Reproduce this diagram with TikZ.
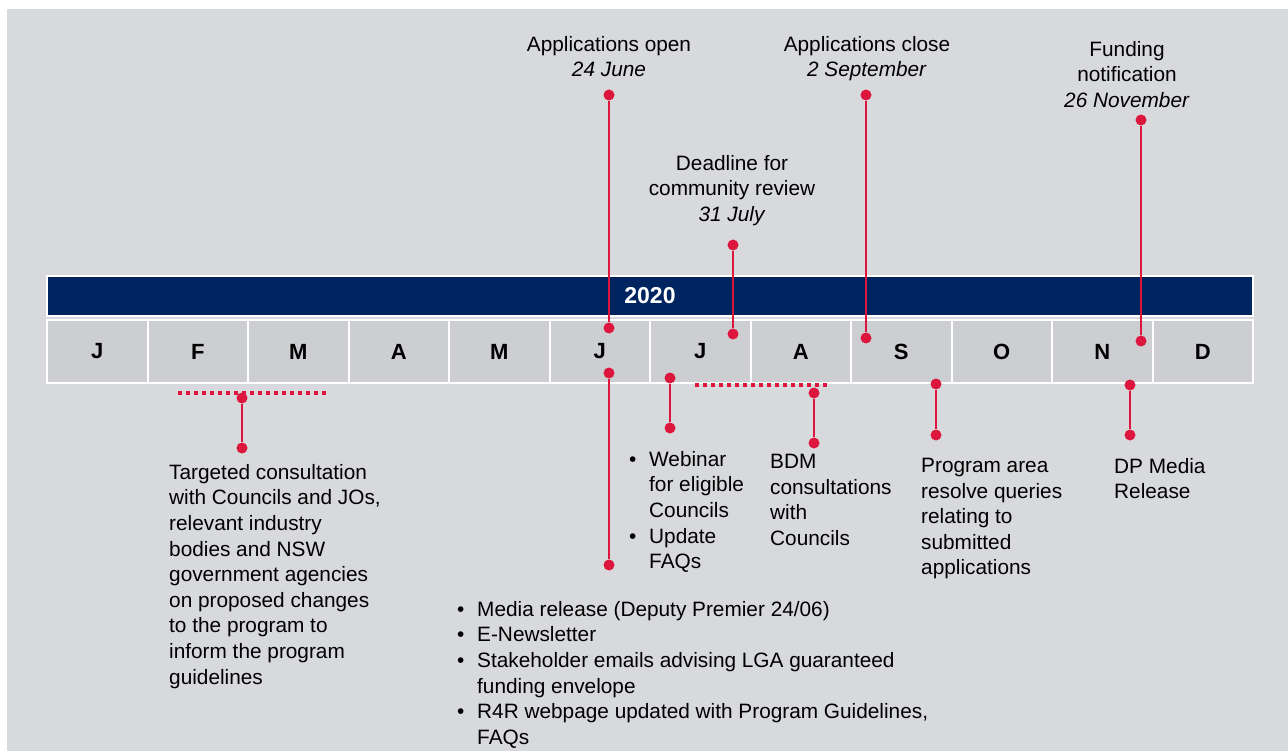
\documentclass[tikz,border=0pt]{standalone}
\usepackage{fontspec}
\setmainfont{Liberation Sans}
\definecolor{bggrey}{RGB}{216,217,220}
\definecolor{cellgrey}{RGB}{205,206,210}
\definecolor{navy}{RGB}{0,36,96}
\definecolor{pinred}{RGB}{220,22,60}
\newcommand{\bul}{\makebox[20pt][l]{\textbullet}}
\newcommand{\ind}{\hspace*{20pt}}

\begin{document}
\begin{tikzpicture}[
    x = 1pt, y = -1pt, % y grows downward
    dot/.style = {circle, fill=pinred, inner sep=0pt, minimum size=11pt},
    pin/.style = {pinred, line width=2.5pt},
    span/.style = {pinred, line width=3.5pt, dash pattern=on 3.5pt off 4.5pt},
    month/.style = {draw=white, line width=2pt, fill=cellgrey, outer sep=0pt,
        minimum width=100.5pt, minimum height=63pt, inner sep=0pt,
        font=\fontsize{22}{24}\selectfont\bfseries},
    note/.style = {align=left, anchor=north west, inner sep=0pt,
        font=\fontsize{20.8}{25.6}\selectfont},
    head/.style = {align=center, anchor=north, inner sep=0pt,
        font=\fontsize{20.8}{25.6}\selectfont}
    ]

    % page and background
    \fill[white] (0,0) rectangle (1288,751);
    \fill[bggrey] (7,9) rectangle (1288,751);
    \useasboundingbox (0,0) rectangle (1288,751);

    % year bar and months
    \node[draw=white, line width=2pt, fill=navy, minimum width=1206pt, minimum height=40pt,
        inner sep=0pt, text=white, font=\fontsize{23}{25}\selectfont\bfseries]
        (year) at (650,296) {2020};
    \foreach \m [count=\i] in {J,F,M,A,M,J,J,A,S,O,N,D}
        \node[month] (m\i) at ({47+100.5*(\i-0.5)},351.5) {\m};

    % milestones above the bar
    \node[dot] (open1) at (609,95) {};
    \node[dot] (open2) at (609,328) {};
    \draw[pin] (open1) -- (open2);
    \node[head] (openlbl) at (609,36) {Applications open\\\textit{24 June}};

    \node[dot] (review1) at (733,245) {};
    \node[dot] (review2) at (733,334) {};
    \draw[pin] (review1) -- (review2);
    \node[head] (reviewlbl) at (732,155) {Deadline for\\community review\\\textit{31 July}};

    \node[dot] (close1) at (866,95) {};
    \node[dot] (close2) at (866,338) {};
    \draw[pin] (close1) -- (close2);
    \node[head] (closelbl) at (867,36) {Applications close\\\textit{2 September}};

    \node[dot] (notify1) at (1141,120) {};
    \node[dot] (notify2) at (1141,341) {};
    \draw[pin] (notify1) -- (notify2);
    \node[head] (notifylbl) at (1127,41) {Funding\\notification\\\textit{26 November}};

    % activities below the bar
    \coordinate (consultL) at (178,393);
    \coordinate (consultR) at (326,393);
    \draw[span] (consultL) -- (consultR);
    \node[dot] (consult1) at (242,398) {};
    \node[dot] (consult2) at (242,448) {};
    \draw[pin] (consult1) -- (consult2);
    \node[note] (consultlbl) at (169,464) {Targeted consultation\\with Councils and JOs,\\relevant industry\\bodies and NSW\\government agencies\\on proposed changes\\to the program to\\inform the program\\guidelines};

    \node[dot] (media1) at (609,373) {};
    \node[dot] (media2) at (609,565) {};
    \draw[pin] (media1) -- (media2);
    \node[note] (medialbl) at (457,601) {\bul Media release (Deputy Premier 24/06)\\\bul E-Newsletter\\\bul Stakeholder emails advising LGA guaranteed\\\ind funding envelope\\\bul R4R webpage updated with Program Guidelines,\\\ind FAQs};

    \node[dot] (webinar1) at (670,378) {};
    \node[dot] (webinar2) at (670,428) {};
    \draw[pin] (webinar1) -- (webinar2);
    \node[note] (webinarlbl) at (629,451) {\bul Webinar\\\ind for eligible\\\ind Councils\\\bul Update\\\ind FAQs};

    \coordinate (bdmL) at (695,385);
    \coordinate (bdmR) at (828,385);
    \draw[span] (bdmL) -- (bdmR);
    \node[dot] (bdm1) at (814,393) {};
    \node[dot] (bdm2) at (814,443) {};
    \draw[pin] (bdm1) -- (bdm2);
    \node[note] (bdmlbl) at (770,454) {BDM\\consultations\\with\\Councils};

    \node[dot] (query1) at (936,384) {};
    \node[dot] (query2) at (936,435) {};
    \draw[pin] (query1) -- (query2);
    \node[note] (querylbl) at (921,458) {Program area\\resolve queries\\relating to\\submitted\\applications};

    \node[dot] (dp1) at (1130,385) {};
    \node[dot] (dp2) at (1130,435) {};
    \draw[pin] (dp1) -- (dp2);
    \node[note] (dplbl) at (1114,458) {DP Media\\Release};
\end{tikzpicture}
\end{document}
